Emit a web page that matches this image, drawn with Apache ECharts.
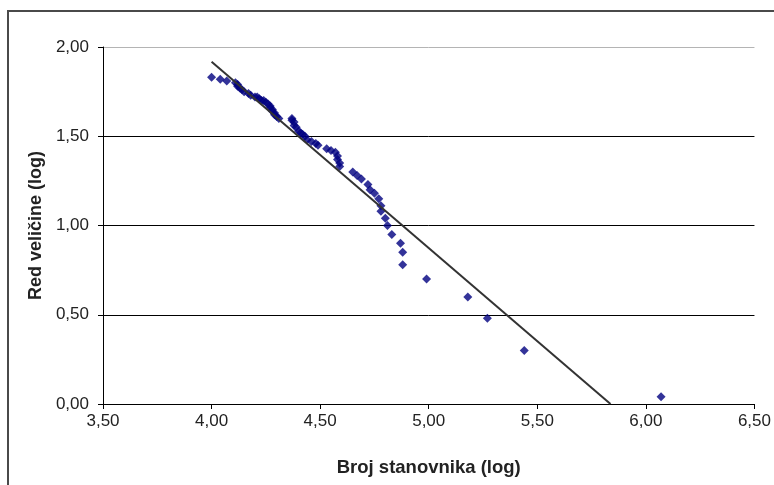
<!DOCTYPE html>
<html>
<head>
<meta charset="utf-8">
<script src="https://cdn.jsdelivr.net/npm/echarts@6/dist/echarts.min.js"></script>
<style>
  html, body { margin: 0; padding: 0; background: #fff; }
  #chart { width: 774px; height: 485px; }
</style>
</head>
<body>
<div id="chart"></div>
<script>
// log10 of population per town
const populationLog = [
  4.00, 4.04, 4.07, 4.11, 4.12, 4.12, 4.13, 4.14, 4.15, 4.17,
  4.18, 4.20, 4.21, 4.22, 4.23, 4.24, 4.25, 4.26, 4.27, 4.27,
  4.28, 4.28, 4.29, 4.29, 4.30, 4.31, 4.37, 4.37, 4.38, 4.38,
  4.39, 4.40, 4.41, 4.42, 4.43, 4.44, 4.46, 4.48, 4.49, 4.53,
  4.55, 4.57, 4.58, 4.58, 4.59, 4.59, 4.65, 4.67, 4.69, 4.72,
  4.73, 4.75, 4.77, 4.78, 4.78, 4.80, 4.81, 4.83, 4.87, 4.88,
  4.88, 4.99, 5.18, 5.27, 5.44, 6.07
];
// log10 of rank
const rankLog = [
  1.83, 1.82, 1.81, 1.80, 1.79, 1.78, 1.77, 1.76, 1.75, 1.74,
  1.73, 1.72, 1.72, 1.71, 1.70, 1.70, 1.69, 1.68, 1.67, 1.66,
  1.65, 1.64, 1.63, 1.62, 1.61, 1.60, 1.60, 1.59, 1.58, 1.56,
  1.55, 1.53, 1.52, 1.51, 1.50, 1.48, 1.47, 1.46, 1.45, 1.43,
  1.42, 1.41, 1.39, 1.37, 1.35, 1.33, 1.30, 1.28, 1.26, 1.23,
  1.20, 1.18, 1.15, 1.11, 1.08, 1.04, 1.00, 0.95, 0.90, 0.85,
  0.78, 0.70, 0.60, 0.48, 0.30, 0.04
];
// linear trend: rankLog = slope * populationLog + intercept
const trendSlope = -1.044;
const trendIntercept = 6.094;

const xTicks = { min: 3.5, max: 6.5, step: 0.5 };
const yTicks = { min: 0, max: 2, step: 0.5 };

const xTitle = 'Broj stanovnika (log)';
const yTitle = 'Red veličine (log)';

const points = populationLog.map((x, i) => [x, rankLog[i]]);
const xStart = Math.min(...populationLog);
const xEnd = -trendIntercept / trendSlope; // where the trend meets 0
const trendPoints = [
  [xStart, trendSlope * xStart + trendIntercept],
  [xEnd, trendSlope * xEnd + trendIntercept]
];

const fmt = v => v.toFixed(2).replace('.', ',');
const FONT = '"Liberation Sans", Arial, sans-serif';
const TEXT = '#222';

const chart = echarts.init(document.getElementById('chart'), null, { renderer: 'canvas' });
chart.setOption({
  animation: false,
  backgroundColor: '#fff',
  grid: { left: 103, top: 47, width: 653, height: 357, containLabel: false },
  graphic: [{
    type: 'rect',
    shape: { x: 8, y: 11, width: 820, height: 520 },
    style: { fill: 'none', stroke: '#4a4a4a', lineWidth: 2 },
    silent: true
  }],
  xAxis: {
    type: 'value',
    min: xTicks.min, max: xTicks.max, interval: xTicks.step,
    name: xTitle,
    nameLocation: 'middle',
    nameGap: 54,
    nameTextStyle: { fontFamily: FONT, fontSize: 18.5, fontWeight: 'bold', color: TEXT },
    axisLine: { show: true, onZero: false, lineStyle: { color: '#000', width: 1 } },
    axisTick: { show: true, inside: false, length: 5, lineStyle: { color: '#000' } },
    axisLabel: { formatter: fmt, fontFamily: FONT, fontSize: 17, color: TEXT, margin: 9 },
    splitLine: { show: false }
  },
  yAxis: {
    type: 'value',
    min: yTicks.min, max: yTicks.max, interval: yTicks.step,
    name: yTitle,
    nameLocation: 'middle',
    nameGap: 58,
    nameRotate: 90,
    nameTextStyle: { fontFamily: FONT, fontSize: 18, fontWeight: 'bold', color: TEXT },
    axisLine: { show: true, lineStyle: { color: '#000', width: 1 } },
    axisTick: { show: true, inside: false, length: 5, lineStyle: { color: '#000' } },
    axisLabel: { formatter: fmt, fontFamily: FONT, fontSize: 17, color: TEXT, margin: 14 },
    splitLine: { show: true, lineStyle: { color: ['#000', '#000', '#000', '#000', '#b4b4b4'], width: 1 } }
  },
  series: [
    {
      type: 'scatter',
      data: points,
      symbol: 'diamond',
      symbolSize: 9,
      itemStyle: { color: '#000080' },
      z: 2
    },
    {
      type: 'line',
      data: trendPoints,
      showSymbol: false,
      symbol: 'none',
      lineStyle: { color: '#333', width: 2 },
      z: 3
    }
  ]
});
</script>
</body>
</html>
